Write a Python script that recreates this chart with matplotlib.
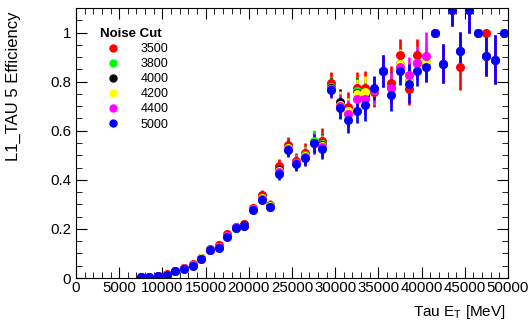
import matplotlib
matplotlib.use("Agg")
import matplotlib.pyplot as plt
from matplotlib.lines import Line2D
from matplotlib.ticker import MultipleLocator

plt.rcParams["font.family"] = ["Liberation Sans", "DejaVu Sans"]

# bin centres (MeV)
tau_et = [7500, 8500, 9500, 10500, 11500, 12500, 13500, 14500, 15500, 16500,
          17500, 18500, 19500, 20500, 21500, 22500, 23500, 24500, 25500, 26500,
          27500, 28500, 29500, 30500, 31500, 32500, 33500, 34500, 35500, 36500,
          37500, 38500, 39500, 40500, 41500, 42500, 43500, 44500, 45500, 46500,
          47500, 48500, 49500]

noise_cuts = ["3500", "3800", "4000", "4200", "4400", "5000"]
colors = ["#ff0000", "#00ff00", "#000000", "#ffff00", "#ff00ff", "#0000ff"]

eff_3500 = [0.006, 0.006, 0.009, 0.016, 0.030, 0.042, 0.057, 0.082, 0.117, 0.133,
            0.179, 0.207, 0.220, 0.287, 0.340, 0.298, 0.455, 0.540, 0.476, 0.510,
            0.552, 0.560, 0.794, 0.705, 0.696, 0.774, 0.775, 0.757, 0.843, 0.794,
            0.909, 0.771, 0.909, 0.859, 1.000, 0.873, 1.090, 0.859, 1.090, 1.000,
            1.000, 0.889, 1.000]
err_3500 = [0.003, 0.003, 0.004, 0.005, 0.006, 0.007, 0.008, 0.009, 0.011, 0.012,
            0.013, 0.014, 0.015, 0.016, 0.018, 0.018, 0.030, 0.035, 0.035, 0.040,
            0.045, 0.050, 0.045, 0.050, 0.060, 0.065, 0.070, 0.060, 0.065, 0.070,
            0.065, 0.065, 0.065, 0.060, 0.010, 0.080, 0.065, 0.095, 0.090, 0.000,
            0.000, 0.100, 0.000]

eff_3800 = [0.005, 0.005, 0.009, 0.014, 0.028, 0.040, 0.053, 0.080, 0.115, 0.127,
            0.172, 0.205, 0.214, 0.282, 0.326, 0.293, 0.440, 0.530, 0.470, 0.500,
            0.557, 0.545, 0.778, 0.705, 0.680, 0.760, 0.745, 0.765, 0.843, 0.775,
            0.873, 0.802, 0.877, 0.880, 1.000, 0.873, 1.090, 0.923, 1.090, 1.000,
            0.906, 0.889, 1.000]
err_3800 = [0.003, 0.003, 0.003, 0.004, 0.005, 0.006, 0.007, 0.008, 0.010, 0.011,
            0.012, 0.013, 0.014, 0.015, 0.017, 0.017, 0.028, 0.032, 0.032, 0.036,
            0.045, 0.045, 0.040, 0.050, 0.055, 0.060, 0.065, 0.055, 0.065, 0.065,
            0.060, 0.070, 0.065, 0.065, 0.010, 0.080, 0.065, 0.080, 0.090, 0.000,
            0.085, 0.100, 0.000]

eff_4000 = [0.005, 0.005, 0.009, 0.014, 0.028, 0.040, 0.053, 0.080, 0.115, 0.126,
            0.172, 0.205, 0.214, 0.282, 0.326, 0.293, 0.438, 0.530, 0.470, 0.498,
            0.550, 0.540, 0.775, 0.717, 0.675, 0.755, 0.745, 0.765, 0.843, 0.775,
            0.873, 0.800, 0.877, 0.880, 1.000, 0.873, 1.090, 0.923, 1.090, 1.000,
            0.906, 0.889, 1.000]
err_4000 = [0.003, 0.003, 0.003, 0.004, 0.005, 0.006, 0.007, 0.008, 0.010, 0.011,
            0.012, 0.013, 0.014, 0.015, 0.017, 0.017, 0.028, 0.032, 0.032, 0.036,
            0.042, 0.045, 0.040, 0.055, 0.055, 0.060, 0.065, 0.055, 0.065, 0.065,
            0.060, 0.070, 0.065, 0.065, 0.010, 0.080, 0.065, 0.080, 0.090, 0.000,
            0.085, 0.100, 0.000]

eff_4200 = [0.005, 0.005, 0.009, 0.014, 0.028, 0.040, 0.052, 0.080, 0.114, 0.126,
            0.171, 0.205, 0.213, 0.281, 0.325, 0.292, 0.436, 0.528, 0.469, 0.496,
            0.550, 0.538, 0.772, 0.705, 0.680, 0.750, 0.757, 0.765, 0.843, 0.770,
            0.873, 0.800, 0.877, 0.880, 1.000, 0.873, 1.090, 0.923, 1.090, 1.000,
            0.906, 0.889, 1.000]
err_4200 = err_4000

eff_4400 = [0.005, 0.005, 0.008, 0.014, 0.028, 0.039, 0.051, 0.079, 0.114, 0.125,
            0.170, 0.206, 0.212, 0.280, 0.322, 0.291, 0.432, 0.526, 0.468, 0.494,
            0.549, 0.535, 0.770, 0.700, 0.669, 0.730, 0.730, 0.765, 0.843, 0.775,
            0.860, 0.825, 0.877, 0.906, 1.000, 0.873, 1.090, 0.923, 1.090, 1.000,
            0.906, 0.889, 1.000]
err_4400 = [0.003, 0.003, 0.003, 0.004, 0.005, 0.006, 0.007, 0.008, 0.010, 0.011,
            0.012, 0.013, 0.014, 0.015, 0.017, 0.017, 0.026, 0.030, 0.030, 0.034,
            0.042, 0.042, 0.035, 0.050, 0.055, 0.060, 0.065, 0.055, 0.065, 0.065,
            0.060, 0.075, 0.065, 0.095, 0.010, 0.080, 0.065, 0.080, 0.090, 0.000,
            0.085, 0.100, 0.000]

eff_5000 = [0.005, 0.005, 0.008, 0.013, 0.027, 0.038, 0.050, 0.078, 0.113, 0.122,
            0.168, 0.204, 0.211, 0.279, 0.317, 0.290, 0.423, 0.523, 0.466, 0.490,
            0.548, 0.525, 0.767, 0.692, 0.642, 0.680, 0.703, 0.774, 0.843, 0.744,
            0.843, 0.791, 0.843, 0.859, 1.000, 0.873, 1.090, 0.923, 1.090, 1.000,
            0.906, 0.889, 1.000]
err_5000 = [0.003, 0.003, 0.003, 0.004, 0.005, 0.006, 0.007, 0.008, 0.010, 0.011,
            0.012, 0.013, 0.014, 0.015, 0.017, 0.017, 0.025, 0.030, 0.030, 0.034,
            0.040, 0.040, 0.030, 0.045, 0.050, 0.050, 0.065, 0.050, 0.065, 0.065,
            0.055, 0.080, 0.060, 0.060, 0.010, 0.080, 0.065, 0.080, 0.090, 0.000,
            0.085, 0.100, 0.000]

effs = [eff_3500, eff_3800, eff_4000, eff_4200, eff_4400, eff_5000]
errs = [err_3500, err_3800, err_4000, err_4200, err_4400, err_5000]

fig = plt.figure(figsize=(5.3, 3.22), dpi=100)
ax = fig.add_axes([0.1434, 0.1366, 0.8151, 0.8386])

for eff, err, c in zip(effs, errs, colors):
    ax.errorbar(tau_et, eff, yerr=err, fmt="o", color=c, ms=6.5, elinewidth=1.9,
                capsize=0, mew=0)

ax.set_xlim(0, 50000)
ax.set_ylim(0, 1.1)
ax.xaxis.set_major_locator(MultipleLocator(5000))
ax.xaxis.set_minor_locator(MultipleLocator(1000))
ax.yaxis.set_major_locator(MultipleLocator(0.2))
ax.yaxis.set_minor_locator(MultipleLocator(0.05))
ax.yaxis.set_major_formatter(plt.FuncFormatter(lambda v, p: "%g" % round(v, 2)))
ax.tick_params(which="both", direction="in", top=True, right=True, labelsize=10.8)
ax.tick_params(which="major", length=8)
ax.tick_params(which="minor", length=4)
ax.tick_params(axis="x", pad=2)

fig.text(0.025, 0.965, "L1_TAU 5 Efficiency", rotation=90, ha="center", va="top",
         fontsize=12)
fig.text(0.955, 0.02, "Tau E$_\\mathregular{T}$ [MeV]", ha="right", va="baseline",
         fontsize=11)

handles = [Line2D([], [], ls="", marker="o", color=c, ms=6, mew=0) for c in colors]
leg = ax.legend(handles, noise_cuts, title="Noise Cut", loc="upper left",
                bbox_to_anchor=(0.045, 0.945), frameon=False, fontsize=9,
                title_fontsize=9.5, handletextpad=1.2, labelspacing=0.25,
                borderaxespad=0)
leg.get_title().set_fontweight("bold")
leg._legend_box.align = "left"

fig.savefig("out.png", dpi=100)
